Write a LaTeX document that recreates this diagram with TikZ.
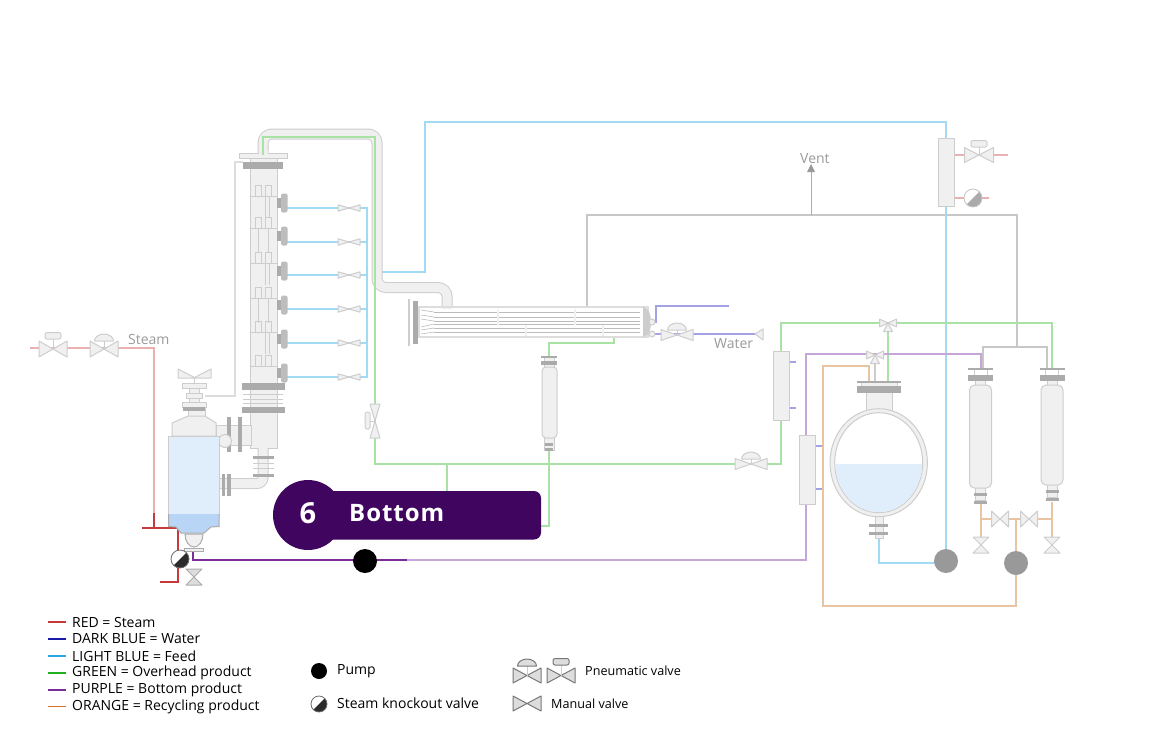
\documentclass[tikz,border=0pt]{standalone}
\usepackage{fontspec}
\setmainfont{Open Sans}
\newcommand{\px}[1]{\fontsize{#1}{#1}\selectfont}
\definecolor{pgreen}{HTML}{A9E2A5}
\definecolor{pblue}{HTML}{A3DAF3}
\definecolor{ppurple}{HTML}{C6A6D8}
\definecolor{porange}{HTML}{E8C4A2}
\definecolor{pred}{HTML}{EBB0B0}
\definecolor{pindigo}{HTML}{A3A3E3}
\definecolor{sred}{HTML}{C8393B}
\definecolor{spurple}{HTML}{7B2D9A}
\definecolor{kit}{HTML}{F0F0F0}
\definecolor{kitline}{HTML}{CDCDCD}
\definecolor{flangegrey}{HTML}{ABABAB}
\definecolor{capgrey}{HTML}{BDBDBD}
\definecolor{liquid}{HTML}{E0EDFB}
\definecolor{liquidb}{HTML}{B9D5F5}
\definecolor{badgecol}{HTML}{3F055F}
\definecolor{sgrey}{HTML}{DDDDDD}
\definecolor{pumpgrey}{HTML}{999999}
\definecolor{kdark}{HTML}{2B2B2B}
\tikzset{
  pipe/.style={line width=2pt,line join=miter},
  green pipe/.style={pipe,draw=pgreen},
  blue pipe/.style={pipe,draw=pblue},
  purple pipe/.style={pipe,draw=ppurple},
  orange pipe/.style={pipe,draw=porange},
  red pipe/.style={pipe,draw=pred},
  indigo pipe/.style={pipe,draw=pindigo},
  kitpart/.style={fill=kit,draw=kitline,line width=1pt},
  thin bar/.style={draw=kitline,line width=1pt},
  valveshape/.style={fill=kit,draw=kitline,line width=1pt,line join=round},
  textlabel/.style={text=#1,anchor=west,inner sep=0pt},
  textlabel/.default=black
}
% bow-tie valve: centre, half-length, half-width, rotation
\newcommand{\valvebody}[6][valveshape]{%
  \begin{scope}[shift={(#2,#3)},rotate=#6]
    \path[#1] (-#4,-#5) -- (0,0) -- (-#4,#5) -- cycle;
    \path[#1] (#4,-#5) -- (0,0) -- (#4,#5) -- cycle;
  \end{scope}}
% actuator heads above a valve centre: x, y, offset of the head's base
\newcommand{\domehead}[4][valveshape]{%
  \draw[kitline,line width=1pt] (#2,#3) -- (#2,#3-#4);
  \path[#1] (#2-9.5,#3-#4) arc[start angle=180,end angle=360,x radius=9.5,y radius=7] -- cycle;}
\newcommand{\capsulehead}[4][valveshape]{%
  \draw[kitline,line width=1pt] (#2,#3) -- (#2,#3-#4);
  \path[#1,rounded corners=2pt] (#2-8,#3-#4-6.5) rectangle (#2+8,#3-#4);}
% three-way valve with the lower port pointing down
\newcommand{\threeway}[2]{%
  \path[valveshape] (#1,#2) -- (#1-8.5,#2-4) -- (#1-8.5,#2+4) -- cycle;
  \path[valveshape] (#1,#2) -- (#1+8.5,#2-4) -- (#1+8.5,#2+4) -- cycle;
  \path[valveshape] (#1,#2) -- (#1-4.5,#2+8.5) -- (#1+4.5,#2+8.5) -- cycle;}
% knockout ball: centre, radius, colour of the shaded lower-right half
\newcommand{\knockout}[4]{%
  \fill[white] (#1,#2) circle[radius=#3];
  \fill[#4] (#1,#2) ++(-45:#3) arc[start angle=-45,end angle=135,radius=#3] -- cycle;
  \draw[#4!70,line width=.8pt] (#1,#2) circle[radius=#3];}
% tall pressure vessel with top and bottom flanges
\newcommand{\vessel}[3]{%
  \path[kitpart] (#1-5,#2-5) rectangle (#1+5,#3+12);
  \path[kitpart,rounded corners=5pt] (#1-11,#2) rectangle (#1+11,#3);
  \draw[thin bar] (#1-6.5,368) -- (#1-6.5,375) (#1+6.5,368) -- (#1+6.5,375);
  \fill[flangegrey] (#1-12.5,368) rectangle (#1+12.5,370);
  \fill[flangegrey] (#1-12.5,375) rectangle (#1+12.5,381);
  \fill[flangegrey] (#1-6.5,#3+5) rectangle (#1+6.5,#3+8);
  \fill[flangegrey] (#1-6.5,#3+13) rectangle (#1+6.5,#3+16);}
\begin{document}
\begin{tikzpicture}[x=1pt,y=-1pt]
\useasboundingbox (0,0) rectangle (1152,742);

%---------------- grey vent and connection lines
\draw[sgrey!90!black,line width=1.3pt] (587,307) -- (587,215) -- (1017,215) -- (1017,347);
\draw[sgrey!90!black,line width=1.3pt] (983,368) -- (983,347) -- (1047,347) -- (1047,368);
\draw[flangegrey,line width=1pt] (811,215) -- (811,170);
\fill[pumpgrey] (811,164) -- (807,172) -- (815,172) -- cycle;
\draw[sgrey,line width=1.5pt] (243,162) -- (235,162) -- (235,396) -- (205,396);

%---------------- process pipes
\draw[blue pipe] (382,272) -- (425,272) -- (425,122) -- (946,122) -- (946,561);
\draw[blue pipe] (879,537) -- (879,563) -- (946,563);
\draw[blue pipe] (287,208) -- (367,208) -- (367,377) -- (287,377);
\foreach \y in {242,275,309,343}{\draw[blue pipe] (287,\y) -- (367,\y);}
\draw[green pipe] (375,290) -- (375,464) -- (781,464) -- (781,323) -- (1052,323) -- (1052,368);
\draw[green pipe] (888,323) -- (888,381);
\draw[green pipe] (447,464) -- (447,491);
\draw[green pipe] (614,337) -- (614,343) -- (549,343) -- (549,526) -- (541,526);
\draw[purple pipe] (407,560) -- (806,560) -- (806,354) -- (981,354) -- (981,368);
\draw[orange pipe] (869,381) -- (869,366) -- (823,366) -- (823,606) -- (1016,606) -- (1016,519);
\draw[orange pipe] (981,504) -- (981,537);
\draw[orange pipe] (1052,502) -- (1052,537);
\draw[orange pipe] (981,519) -- (1052,519);
\draw[red pipe] (30,348) -- (154,348) -- (154,513);
\draw[red pipe] (954,155) -- (1008,155);
\draw[red pipe] (954,198) -- (989,198);
\draw[indigo pipe] (656,323) -- (656,306) -- (729,306);
\draw[indigo pipe] (652,334) -- (755,334);
\foreach \x/\y in {790/362,790/408,816/446,816/489}{\draw[indigo pipe] (\x,\y) -- (\x+6,\y);}

%---------------- emphasised bottom-product and steam lines
\draw[sred,line width=2pt] (154,513) -- (154,528);
\draw[sred,line width=2pt] (142,528) -- (178,528) -- (178,582) -- (160,582);
\draw[spurple,line width=2pt] (193,549) -- (193,560) -- (407,560);

%---------------- rectification column
\path[kitpart] (250,158) rectangle (277,448);
\foreach \y in {196,228,263,298,332,366}{
  \draw[kitline,line width=.8pt] (250,\y) -- (277,\y);
  \draw[kitline,line width=.8pt,fill=kit] (255.5,\y-11) rectangle (261,\y);
  \draw[kitline,line width=.8pt,fill=kit] (265,\y-11) rectangle (271,\y);
}
\foreach \y in {196,263,332}{
  \draw[kitline,line width=.8pt] (265,\y) -- (265,\y+22) (269,\y) -- (269,\y+22);}
\foreach \y in {228,298}{
  \draw[kitline,line width=.8pt] (258,\y) -- (258,\y+25) (268,\y) -- (268,\y+25);}
\foreach \y in {203,236,271,305,339,373}{
  \fill[flangegrey] (277,\y-5) rectangle (281,\y+5);
  \fill[capgrey,rounded corners=2pt] (281,\y-9.5) rectangle (287.5,\y+9.5);
}
\path[kitpart] (239,153) rectangle (287,158);
\fill[flangegrey] (243,162) rectangle (283,169);
\fill[flangegrey] (242,383) rectangle (285,390);
\fill[flangegrey] (242,407) rectangle (285,413);
\draw[kitline,line width=.8pt] (243,394) -- (283,394) (243,399) -- (283,399) (243,403) -- (283,403);

%---------------- overhead vapour pipe
\draw[kitline,line width=11pt,rounded corners=9pt] (263,153) -- (263,134) -- (377,134) -- (377,287.5) -- (447,287.5) -- (447,308);
\draw[kit,line width=9pt,rounded corners=9pt] (263,153) -- (263,134) -- (377,134) -- (377,287.5) -- (447,287.5) -- (447,309);
\fill[kit] (258.5,150) rectangle (267.5,156);
\draw[green pipe] (263,155) -- (263,137) -- (375,137) -- (375,291);

%---------------- reboiler
\draw[kitline,line width=11pt,rounded corners=6pt] (263,448) -- (263,483.5) -- (220,483.5);
\draw[kit,line width=9pt,rounded corners=6pt] (263,448) -- (263,483.5) -- (218,483.5);
\fill[flangegrey] (253,456) rectangle (274,459);
\fill[flangegrey] (253,474) rectangle (274,477);
\draw[kitline,line width=.8pt] (253,463) -- (274,463) (253,468) -- (274,468);
\fill[flangegrey] (222,474) rectangle (225,496);
\fill[flangegrey] (227,474) rectangle (231,496);
\path[kitpart] (216,425) rectangle (251,445);
\fill[flangegrey] (227,417) rectangle (231,452);
\fill[flangegrey] (238,417) rectangle (242,452);
\path[kitpart] (225,441) circle[radius=6.5];
\path[kitpart] (188,408) rectangle (205,416);
\path[kitpart] (172,436) -- (172,423) -- (188,416) -- (205,416) -- (216,423) -- (216,436) -- cycle;
\path[fill=liquid,draw=kitline,line width=1pt] (168.5,436) rectangle (219,514);
\path[fill=liquidb,draw=none] (168.5,514) rectangle (219,526.5);
\path[fill=kit,draw=flangegrey,line width=1pt] (185,534) arc[start angle=180,end angle=0,x radius=9,y radius=13] -- cycle;
\draw[flangegrey,line width=1pt,fill=liquidb] (168.5,514) -- (168.5,526.5) -- (176,527) -- (181,533) -- (204,533) -- (211,527) -- (219,526.5) -- (219,514);
\path[kitpart,draw=flangegrey] (184,548.5) rectangle (203,551);
\path[kitpart] (189,383) rectangle (199,407);
\path[kitpart] (182,383) rectangle (206,388);
\path[kitpart] (186,393) rectangle (202,398);
\path[kitpart] (182,402) rectangle (206,407);
\fill[flangegrey] (183,407) rectangle (205,411);
\path[valveshape] (178,369) -- (194.5,377.5) -- (211,369) -- (211,378) -- (178,378) -- cycle;
\draw[kitline,line width=1pt] (194.5,378) -- (194.5,383);

%---------------- steam-side valves and pumps
\knockout{180}{559}{9}{kdark}
\valvebody[fill=sgrey,draw=flangegrey,line width=1pt,line join=round]{194}{577}{8}{8}{90}
\node[circle,fill=black,minimum size=24pt,inner sep=0pt] (bottom pump) at (365,561) {};
\node[circle,fill=pumpgrey,minimum size=24pt,inner sep=0pt] (feed pump) at (946,561) {};
\node[circle,fill=pumpgrey,minimum size=24pt,inner sep=0pt] (recycle pump) at (1016,563) {};

%---------------- valves on the process lines
\foreach \y in {208,242,275,309,343,377}{\valvebody{349}{\y}{11}{3.2}{0}}
\valvebody{53}{349}{14}{8}{0}\capsulehead{53}{349}{10}
\valvebody{104}{349}{14}{8}{0}\domehead{104}{349}{8}
\valvebody{979}{155}{14.5}{7.5}{0}\capsulehead{979}{155}{8}
\knockout{973}{198}{9}{flangegrey}
\valvebody{677}{335}{16}{5.5}{0}\domehead{677}{335}{5}
\path[valveshape] (755,334) -- (763,329) -- (763,340) -- cycle;
\valvebody{375}{421}{17}{5}{90}
\draw[kitline,line width=1pt] (370,421) -- (375,421);
\path[valveshape,rounded corners=1.5pt] (365,412) rectangle (370,429);
\valvebody{751}{464}{16}{5.5}{0}\domehead{751}{464}{5}
\threeway{888}{323}
\threeway{875}{355}
\draw[kitline,line width=2.5pt] (875,364) -- (875,381);
\valvebody{1000}{519}{8.5}{8}{0}
\valvebody{1029}{519}{8.5}{8}{0}
\valvebody{981}{545}{8}{8}{90}
\valvebody{1052}{545}{8}{8}{90}

%---------------- condensate receiver
\path[kitpart] (544,356) rectangle (554,450);
\path[kitpart,rounded corners=4pt] (542,367) rectangle (557,438);
\fill[flangegrey] (541,356) rectangle (557,358);
\fill[flangegrey] (541,361) rectangle (557,365);
\fill[flangegrey] (545,443) rectangle (553,445.5);
\fill[flangegrey] (545,448) rectangle (553,450.5);

%---------------- condenser
\path[kit,draw=sgrey,line width=1.5pt] (419,307) rectangle (648,337);
\fill[flangegrey] (413,301) rectangle (418,344);
\fill[kitline] (408,299) rectangle (410,346);
\fill[kitline] (643,307) .. controls (649,308) and (651,315) .. (651,322) .. controls (651,330) and (649,336) .. (643,337) -- cycle;
\foreach \y in {312,317,321,324,328,332}{\draw[flangegrey!80,line width=.8pt] (434,\y) -- (640,\y);}
\foreach \a/\b in {310/312,315/317,319/321,327/324,330/328,334/332}{\draw[flangegrey!80,line width=.6pt] (421,\a) -- (434,\b);}
\foreach \x in {498,575}{\draw[kit,line width=1.6pt] (\x,309) -- (\x,325);}
\foreach \x in {526,603}{\draw[kit,line width=1.6pt] (\x,325) -- (\x,336);}
\path[kitpart] (652,322) circle[radius=3];
\path[kitpart] (652,334) circle[radius=3];

%---------------- heat exchangers
\path[kitpart] (938,138) rectangle (954,206);
\path[kitpart] (773,351) rectangle (789,420);
\path[kitpart] (799,435) rectangle (815,504);

%---------------- separation vessel
\path[kitpart] (866,392) rectangle (892,412);
\path[kitpart] (875,514) rectangle (883,538);
\fill[flangegrey] (869,524) rectangle (888,527);
\fill[flangegrey] (869,532) rectangle (888,534.5);
\path[kitpart] (878.7,462.7) ellipse[x radius=48.7,y radius=54];
\path[fill=white,draw=kitline,line width=1pt] (878.7,462.7) ellipse[x radius=44,y radius=50];
\begin{scope}
  \clip (878.7,462.7) ellipse[x radius=43.5,y radius=49.5];
  \fill[liquid] (830,464) rectangle (930,520);
\end{scope}
\path[kitpart] (861,381) rectangle (897,386);
\fill[flangegrey] (857,380.5) rectangle (901,383);
\fill[flangegrey] (857,386) rectangle (901,393);

%---------------- tall vessels
\vessel{980.5}{385}{488}
\vessel{1052}{385}{485}

%---------------- labels in the process area
\node[textlabel=flangegrey!90!black] (steam label) at (128,339) {\px{14}Steam};
\node[textlabel=flangegrey!90!black] (vent label) at (800,158.5) {\px{14}Vent};
\node[textlabel=flangegrey!90!black] (water label) at (714,344) {\px{14}Water};

%---------------- step badge
\fill[badgecol,rounded corners=7pt] (315,491) rectangle (541,539.5);
\node[circle,fill=badgecol,minimum size=70pt,inner sep=0pt] (step badge) at (308,515) {};
\node[text=white,inner sep=0pt] (step number) at (308,513) {\px{29}\bfseries 6};
\node[textlabel=white] (step title) at (349,513.5) {\px{24}\bfseries\addfontfeatures{LetterSpace=4}Bottom};

%---------------- legend
\foreach \y/\c/\t in {622/C8393B/RED = Steam,639/1A1AA8/DARK BLUE = Water,656/2AA8E0/LIGHT BLUE = Feed,673/22B022/GREEN = Overhead product,690/7B2D9A/PURPLE = Bottom product,706.5/D2752A/ORANGE = Recycling product}{
  \definecolor{keycolor}{HTML}{\c}
  \draw[keycolor,line width=1.5pt] (48,\y) -- (66,\y);
  \node[textlabel] at (72,\y) {\px{14}\t};
}
\node[circle,fill=black,minimum size=16pt,inner sep=0pt] (key pump) at (319,671) {};
\knockout{319}{704}{8}{kdark}
\node[textlabel] (key pump text) at (337,671.5) {\px{14}Pump};
\node[textlabel] (key ball text) at (337,703.5) {\px{14}Steam knockout valve};
\tikzset{keyvalve/.style={fill=sgrey,draw=flangegrey!70!black,line width=1pt,line join=round}}
\valvebody[keyvalve]{527}{675.5}{14}{7.5}{0}
\domehead[keyvalve]{527}{675.5}{9.5}
\valvebody[keyvalve]{561}{675.5}{14}{7.5}{0}
\capsulehead[keyvalve]{561}{675.5}{10.5}
\valvebody[keyvalve]{527}{703.5}{14}{7.5}{0}
\node[textlabel] (key pneu text) at (585,670.5) {\px{12.6}Pneumatic valve};
\node[textlabel] (key man text) at (551,703.5) {\px{12.6}Manual valve};
\end{tikzpicture}
\end{document}
